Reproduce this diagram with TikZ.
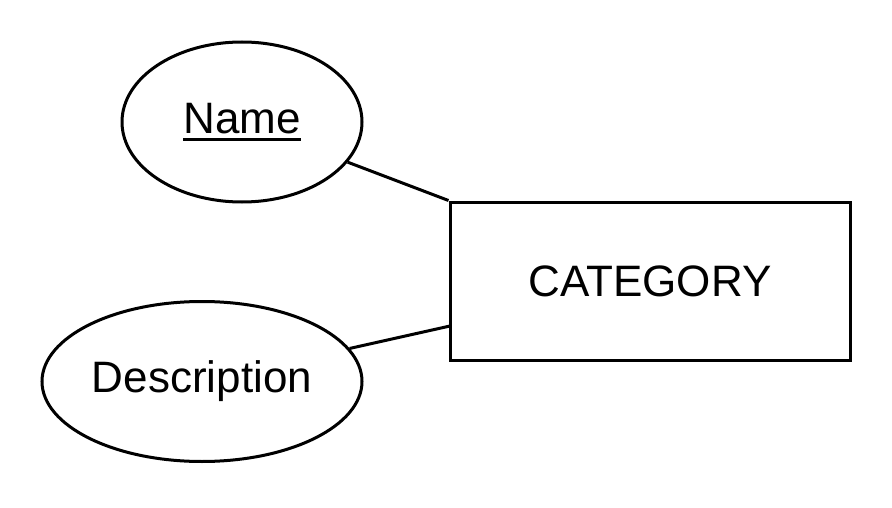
\documentclass[tikz,border=0pt]{standalone}
\usepackage{fontspec}
\setmainfont{Liberation Sans}
\usetikzlibrary{shapes.geometric}
\newcommand{\thickul}[1]{\setbox0\hbox{#1}\makebox[0pt][l]{\rule[-7pt]{\wd0}{3pt}}\box0}
\begin{document}
\begin{tikzpicture}[x=1pt,y=-1pt,
  line width=3pt,
  attr/.style={draw, ellipse, inner sep=0pt, font=\fontsize{44}{50}\selectfont},
  entity/.style={draw, rectangle, inner sep=0pt, minimum width=400pt, minimum height=158pt, font=\fontsize{44}{50}\selectfont},
  link/.style={draw, line width=3pt}]
\useasboundingbox[fill=white] (0,0) rectangle (892,508);
\node[entity] (cat) at (650,281) {CATEGORY};
\node[attr, minimum width=240pt, minimum height=160pt] (name) at (242,122) {\thickul{Name}};
\node[attr, minimum width=320pt, minimum height=160pt] (desc) at (202,381.5) {Description};
\coordinate (catlow) at (450,326);
\path[link] (name) -- (cat.north west);
\path[link] (desc) -- (catlow);
\end{tikzpicture}
\end{document}
